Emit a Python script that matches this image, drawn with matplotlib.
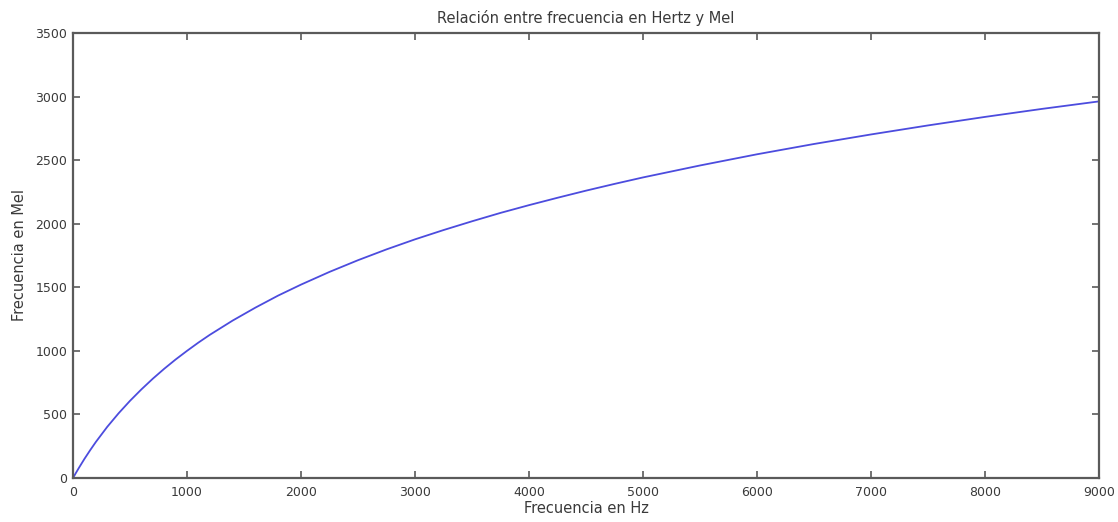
import matplotlib
matplotlib.use("Agg")
import matplotlib.pyplot as plt

# Frequency in Hz and corresponding Mel values
freq_hz = [0, 25, 50, 100, 150, 200, 300, 400, 500, 600, 700, 800, 900, 1000,
           1100, 1200, 1400, 1600, 1800, 2000, 2250, 2500, 2750, 3000, 3250,
           3500, 3750, 4000, 4250, 4500, 4750, 5000, 5500, 6000, 6500, 7000,
           7500, 8000, 8500, 9000]
mel = [0, 39, 77, 150, 218, 283, 402, 509, 607, 697, 781, 859, 932, 1000,
       1065, 1126, 1238, 1340, 1435, 1521, 1621, 1713, 1798, 1877, 1950,
       2019, 2085, 2146, 2204, 2260, 2313, 2364, 2458, 2546, 2627, 2702,
       2773, 2840, 2903, 2962]

x_ticks = [0, 1000, 2000, 3000, 4000, 5000, 6000, 7000, 8000, 9000]
y_ticks = [0, 500, 1000, 1500, 2000, 2500, 3000, 3500]

plt.rcParams["font.family"] = ["DejaVu Sans"]
text_color = "#3a3a3a"
frame_color = "#5a5a5a"

fig = plt.figure(figsize=(11.18, 5.22), dpi=100)
ax = fig.add_axes([0.0653, 0.0843, 0.9177, 0.8525])

ax.plot(freq_hz, mel, color="#4c4cde", linewidth=1.3)

ax.set_xlim(0, 9000)
ax.set_ylim(0, 3500)
ax.set_xticks(x_ticks)
ax.set_yticks(y_ticks)
ax.tick_params(direction="in", top=True, right=True, length=5, width=1.2,
               color=frame_color, labelcolor=text_color, labelsize=9)
ax.tick_params(axis="x", pad=6)
ax.tick_params(axis="y", pad=4)
for s in ax.spines.values():
    s.set_color(frame_color)
    s.set_linewidth(1.6)

ax.set_title("Relación entre frecuencia en Hertz y Mel", fontsize=10.5,
             color=text_color, pad=7)
ax.set_xlabel("Frecuencia en Hz", fontsize=10.5, color=text_color, labelpad=1)
ax.set_ylabel("Frecuencia en Mel", fontsize=10.5, color=text_color, labelpad=6)

fig.savefig("out.png", dpi=100, facecolor="white")
